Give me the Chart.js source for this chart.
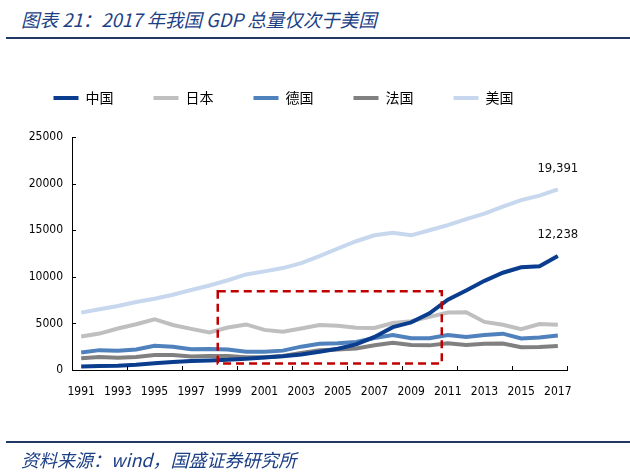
<!DOCTYPE html>
<html>
<head>
<meta charset="utf-8">
<script src="https://cdn.jsdelivr.net/npm/chart.js@4.4.0/dist/chart.umd.min.js"></script>
<style>
html,body{margin:0;padding:0;background:#fff;width:630px;height:475px;overflow:hidden;}
#wrap{position:relative;width:630px;height:475px;}
#title{position:absolute;left:21px;top:6px;font:italic 18.5px 'Noto Sans CJK SC','Noto Sans',sans-serif;color:#1c3f86;white-space:nowrap;line-height:26px;}
#topline{position:absolute;left:6px;right:0;top:37px;height:2px;background:#1f3864;}
#botline{position:absolute;left:6px;right:0;top:441px;height:2px;background:#1f3864;}
#source{position:absolute;left:21px;top:447px;font:italic 18px 'Noto Sans CJK SC','Noto Sans',sans-serif;color:#1c3f86;white-space:nowrap;line-height:24px;}
#c{position:absolute;left:0;top:0;}
</style>
</head>
<body>
<div id="wrap">
  <div id="title">图表 21：2017 年我国 GDP 总量仅次于美国</div>
  <div id="topline"></div>
  <canvas id="c" width="630" height="475"></canvas>
  <div id="botline"></div>
  <div id="source">资料来源：wind，国盛证券研究所</div>
</div>
<script>
// ---- data (USD billions) ----
const years = ['1991','1992','1993','1994','1995','1996','1997','1998','1999','2000','2001','2002','2003','2004','2005','2006','2007','2008','2009','2010','2011','2012','2013','2014','2015','2016','2017'];
const xTickLabels = ['1991','1993','1995','1997','1999','2001','2003','2005','2007','2009','2011','2013','2015','2017'];
const yTickLabels = ['0','5000','10000','15000','20000','25000'];
const seriesNames = ['中国','日本','德国','法国','美国'];
const china   = [383,427,445,564,734,864,962,1029,1094,1211,1339,1471,1660,1955,2286,2752,3552,4598,5110,6087,7552,8532,9570,10439,11016,11138,12238];
const japan   = [3585,3909,4454,4907,5449,4834,4415,4033,4562,4888,4304,4115,4445,4815,4755,4530,4515,5038,5231,5700,6157,6203,5156,4850,4389,4927,4860];
const germany = [1868,2131,2071,2206,2591,2504,2218,2243,2200,1948,1951,2079,2505,2820,2862,3002,3440,3752,3418,3417,3758,3544,3753,3899,3381,3495,3693];
const france  = [1269,1401,1322,1394,1601,1606,1452,1503,1492,1362,1377,1494,1840,2115,2196,2318,2657,2918,2690,2643,2862,2683,2811,2852,2438,2471,2583];
const usa     = [6158,6520,6859,7287,7640,8073,8578,9063,9631,10252,10582,10936,11458,12214,13037,13815,14452,14713,14449,14992,15543,16197,16785,17527,18225,18715,19391];
const endLabelSeries = ['中国','美国'];
const highlightYears = [1998.45, 2010.67];
const highlightValues = [700, 8450];

// ---- styles ----
const colors = ['#0b3d8f','#bfbfbf','#4f81bd','#808080','#c6d7ee'];
const axisFont = {family:"'Liberation Sans Narrow','DejaVu Sans Condensed','Arial Narrow','Liberation Sans',sans-serif", size:12};

const seriesData = [china, japan, germany, france, usa];
const datasets = seriesNames.map((n,i)=>({
  label:n, data:seriesData[i], borderColor:colors[i], backgroundColor:colors[i],
  borderWidth:4, pointRadius:0, pointHoverRadius:0, tension:0, fill:false
}));

const axisTicks = {
  id:'axisTicks',
  afterDatasetsDraw(chart){
    const {ctx, chartArea, scales:{x,y}} = chart;
    ctx.save(); ctx.strokeStyle='#000'; ctx.lineWidth=1; ctx.beginPath();
    for(let k=3;k<=years.length;k+=3){
      const px=Math.round(x.getPixelForValue(k-0.5))+0.5;
      ctx.moveTo(px,chartArea.bottom); ctx.lineTo(px,chartArea.bottom-4);
    }
    y.ticks.forEach(t=>{
      const py=Math.round(y.getPixelForValue(t.value))+0.5;
      ctx.moveTo(chartArea.left,py); ctx.lineTo(chartArea.left+4,py);
    });
    ctx.stroke(); ctx.restore();
  }
};
const highlight = {
  id:'highlight',
  afterDatasetsDraw(chart){
    const {ctx, scales:{x,y}} = chart;
    const x0=x.getPixelForValue(highlightYears[0]-Number(years[0]));
    const x1=x.getPixelForValue(highlightYears[1]-Number(years[0]));
    const y0=y.getPixelForValue(highlightValues[1]);
    const y1=y.getPixelForValue(highlightValues[0]);
    ctx.save(); ctx.strokeStyle='#c00000'; ctx.lineWidth=2.5; ctx.setLineDash([8,5]);
    ctx.strokeRect(x0,y0,x1-x0,y1-y0); ctx.restore();
  }
};
const endLabels = {
  id:'endLabels',
  afterDatasetsDraw(chart){
    const {ctx} = chart;
    ctx.save(); ctx.fillStyle='#111'; ctx.textAlign='center'; ctx.textBaseline='middle';
    ctx.font="13px 'Liberation Sans Narrow','DejaVu Sans Condensed','Arial Narrow','Liberation Sans',sans-serif";
    chart.data.datasets.forEach((ds,i)=>{
      if(!endLabelSeries.includes(ds.label)) return;
      const meta=chart.getDatasetMeta(i); const pt=meta.data[meta.data.length-1];
      const v=ds.data[ds.data.length-1];
      ctx.fillText(v.toLocaleString('en-US'), pt.x, pt.y-21);
    });
    ctx.restore();
  }
};

new Chart(document.getElementById('c'), {
  type:'line',
  data:{labels:years, datasets},
  options:{
    responsive:false, animation:false, devicePixelRatio:1,
    layout:{padding:{top:51,right:63,bottom:0,left:0}},
    plugins:{
      tooltip:{enabled:false},
      legend:{display:true, position:'top',
        labels:{boxWidth:25, boxHeight:4, padding:40, color:'#000',
          font:{family:"'Noto Sans CJK SC',sans-serif", size:14},
          generateLabels:(chart)=>Chart.defaults.plugins.legend.labels.generateLabels(chart).map(l=>({...l, fillStyle:l.strokeStyle, lineWidth:0}))
        }},
      subtitle:{display:true, text:' ', weight:500, font:{size:10, lineHeight:1}, padding:{top:6,bottom:6}}
    },
    scales:{
      x:{type:'category', offset:true,
        grid:{display:true, drawOnChartArea:false, drawTicks:false, offset:true},
        border:{display:true, color:'#000', width:1},
        ticks:{autoSkip:false, maxRotation:0, minRotation:0, padding:15, color:'#000', font:axisFont,
          callback:function(v,i){const l=this.getLabelForValue(v); return xTickLabels.includes(l)?l:'';}},
        afterFit:(s)=>{s.height=105;}
      },
      y:{min:0, max:25000,
        grid:{display:true, drawOnChartArea:false, drawTicks:false},
        border:{display:true, color:'#000', width:1},
        ticks:{stepSize:5000, padding:9, color:'#000', font:axisFont,
          callback:(v)=>yTickLabels.includes(String(v))?String(v):''},
        afterFit:(s)=>{s.width=72;}
      }
    }
  },
  plugins:[axisTicks, highlight, endLabels]
});
</script>
</body>
</html>
